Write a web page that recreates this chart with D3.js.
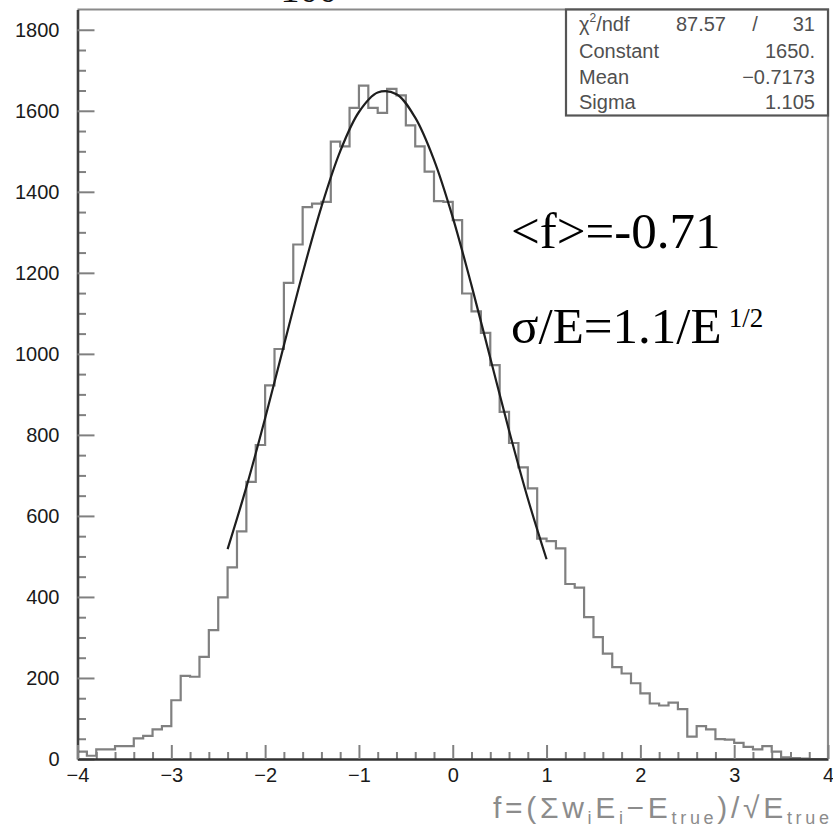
<!DOCTYPE html>
<html lang="en">
<head>
    <meta charset="UTF-8">
    <title>f distribution with gaussian fit</title>
    <script src="https://d3js.org/d3.v7.min.js"></script>
    <style>
        body {
            margin: 0;
            background: #fff;
        }
        svg {
            display: block;
        }
    </style>
</head>
<body>
    <svg width="833" height="830"></svg>
    <script>
        // histogram: 80 bins of width 0.1 from -4 to 4
        const xMin = -4;
        const xMax = 4;
        const binWidth = 0.1;
        const counts = [
            18, 8, 24, 24, 32, 32, 51, 57, 73, 81,              // -4.0 .. -3.1
            145, 205, 203, 252, 318, 399, 473, 562, 684, 775,   // -3.0 .. -2.1
            922, 1012, 1175, 1270, 1362, 1371, 1375, 1524, 1512, 1607, // -2.0 .. -1.1
            1662, 1607, 1595, 1654, 1638, 1564, 1512, 1450, 1377, 1375, // -1.0 .. -0.1
            1330, 1149, 1105, 1052, 972, 857, 780, 720, 668, 544, // 0.0 .. 0.9
            538, 520, 432, 423, 350, 301, 260, 227, 211, 187,   // 1.0 .. 1.9
            162, 137, 132, 139, 123, 55, 81, 73, 49, 48,        // 2.0 .. 2.9
            40, 30, 24, 32, 18, 4, 2, 1, 0, 0                   // 3.0 .. 3.9
        ];

        // gaussian fit curve
        const fitX = [-2.4, -2.2, -2.0, -1.8, -1.6, -1.4, -1.2, -1.0, -0.8, -0.6,
                      -0.4, -0.2, 0.0, 0.2, 0.4, 0.6, 0.8, 1.0];
        const fitY = [518, 671, 841, 1021, 1199, 1363, 1500, 1597, 1645, 1641,
                      1583, 1479, 1337, 1169, 990, 811, 643, 493];

        const yTicks = [0, 200, 400, 600, 800, 1000, 1200, 1400, 1600, 1800];
        const yMinor = d3.range(0, 1850, 50).filter(v => v % 200 !== 0);
        const xTicks = [-4, -3, -2, -1, 0, 1, 2, 3, 4];
        const xMinor = [-3.8, -3.6, -3.4, -3.2, -2.8, -2.6, -2.4, -2.2, -1.8, -1.6, -1.4, -1.2,
                        -0.8, -0.6, -0.4, -0.2, 0.2, 0.4, 0.6, 0.8, 1.2, 1.4, 1.6, 1.8,
                        2.2, 2.4, 2.6, 2.8, 3.2, 3.4, 3.6, 3.8];

        const statNames = ['Constant', 'Mean', 'Sigma'];
        const statValues = ['1650.', '\u22120.7173', '1.105'];
        const chi2 = '87.57';
        const ndf = '31';

        const svg = d3.select('svg');
        const sans = '"Liberation Sans", Arial, Helvetica, sans-serif';
        const serif = '"Liberation Serif", "Times New Roman", serif';

        const x = d3.scaleLinear().domain([xMin, xMax]).range([77.5, 828]);
        const y = d3.scaleLinear().domain([0, 1850]).range([759, 9.5]);

        // title, cut off at the top of the picture
        svg.append('text')
            .attr('x', 309).attr('y', 1.5)
            .attr('text-anchor', 'middle')
            .attr('font-family', serif)
            .attr('font-size', 38)
            .attr('fill', '#111')
            .text('100');

        // top and right frame
        svg.append('path')
            .attr('d', `M${x(xMin)},${y(1850)}H${x(xMax)}V${y(0)}`)
            .attr('fill', 'none')
            .attr('stroke', '#8a8a8a')
            .attr('stroke-width', 2.2);

        // histogram
        const pts = counts.map((c, i) => [xMin + i * binWidth, c]);
        pts.push([xMin + counts.length * binWidth, counts[counts.length - 1]]);
        svg.append('path')
            .datum(pts)
            .attr('fill', 'none')
            .attr('stroke', '#808080')
            .attr('stroke-width', 2.2)
            .attr('d', d3.line()
                .x(d => x(d[0]))
                .y(d => y(d[1]))
                .curve(d3.curveStepAfter));

        // fit
        svg.append('path')
            .datum(fitX.map((v, i) => [v, fitY[i]]))
            .attr('fill', 'none')
            .attr('stroke', '#1e1e1e')
            .attr('stroke-width', 2.2)
            .attr('d', d3.line()
                .x(d => x(d[0]))
                .y(d => y(d[1]))
                .curve(d3.curveCatmullRom));

        // y axis
        svg.append('g')
            .attr('transform', `translate(${x(xMin)},0)`)
            .call(d3.axisLeft(y).tickValues(yMinor).tickSize(-8.5).tickFormat(''))
            .call(g => g.select('.domain').remove())
            .selectAll('line')
            .attr('stroke', '#808080')
            .attr('stroke-width', 2);

        const yAxis = svg.append('g')
            .attr('transform', `translate(${x(xMin)},0)`)
            .call(d3.axisLeft(y).tickValues(yTicks).tickSize(-17).tickSizeOuter(0)
                .tickPadding(18).tickFormat(d3.format('d')))
            .attr('font-family', sans)
            .attr('font-size', 20);
        yAxis.select('.domain').attr('stroke', '#404040').attr('stroke-width', 2.6);
        yAxis.selectAll('line').attr('stroke', '#808080').attr('stroke-width', 2);
        yAxis.selectAll('text').attr('fill', '#1a1a1a');

        // x axis
        svg.append('g')
            .attr('transform', `translate(0,${y(0)})`)
            .call(d3.axisBottom(x).tickValues(xMinor).tickSize(-7).tickFormat(''))
            .call(g => g.select('.domain').remove())
            .selectAll('line')
            .attr('stroke', '#808080')
            .attr('stroke-width', 2);

        const xAxis = svg.append('g')
            .attr('transform', `translate(0,${y(0)})`)
            .call(d3.axisBottom(x).tickValues(xTicks).tickSize(-14).tickSizeOuter(0)
                .tickPadding(9).tickFormat(d3.format('d')))
            .attr('font-family', sans)
            .attr('font-size', 20);
        xAxis.select('.domain').attr('stroke', '#333').attr('stroke-width', 2.6);
        xAxis.selectAll('line').attr('stroke', '#808080').attr('stroke-width', 2);
        xAxis.selectAll('text').attr('fill', '#1a1a1a');

        // axis title
        const xt = svg.append('text')
            .attr('x', 493).attr('y', 818)
            .attr('font-family', sans)
            .attr('font-size', 30)
            .attr('fill', '#8c8c8c')
            .attr('textLength', 336)
            .attr('lengthAdjust', 'spacing');
        xt.append('tspan').text('f=(\u03A3w');
        xt.append('tspan').attr('dy', 6).attr('font-size', 18).text('i');
        xt.append('tspan').attr('dy', -6).text('E');
        xt.append('tspan').attr('dy', 6).attr('font-size', 18).text('i');
        xt.append('tspan').attr('dy', -6).text('\u2212E');
        xt.append('tspan').attr('dy', 6).attr('font-size', 18).text('true');
        xt.append('tspan').attr('dy', -6).text(')/\u221AE');
        xt.append('tspan').attr('dy', 6).attr('font-size', 18).text('true');

        // stats box
        svg.append('rect')
            .attr('x', 566).attr('y', y(1850))
            .attr('width', x(xMax) - 566).attr('height', 106)
            .attr('fill', '#fff')
            .attr('stroke', '#555')
            .attr('stroke-width', 2.2);

        const stats = svg.append('g')
            .attr('font-family', sans)
            .attr('font-size', 20)
            .attr('fill', '#505050');

        const r1 = stats.append('text').attr('x', 579).attr('y', 31);
        r1.append('tspan').text('\u03C7');
        r1.append('tspan').attr('dy', -9).attr('font-size', 12).text('2');
        r1.append('tspan').attr('dy', 9).text('/ndf');
        stats.append('text').attr('x', 726).attr('y', 31).attr('text-anchor', 'end').text(chi2);
        stats.append('text').attr('x', 755).attr('y', 31).attr('text-anchor', 'middle').text('/');
        stats.append('text').attr('x', 815).attr('y', 31).attr('text-anchor', 'end').text(ndf);

        statNames.forEach((name, i) => {
            stats.append('text').attr('x', 579).attr('y', 58 + i * 25.5).text(name);
            stats.append('text').attr('x', 815).attr('y', 58 + i * 25.5)
                .attr('text-anchor', 'end').text(statValues[i]);
        });

        // annotations
        svg.append('text')
            .attr('x', 511).attr('y', 248)
            .attr('font-family', serif)
            .attr('font-size', 51)
            .attr('fill', '#000')
            .text('<f>=-0.71');

        const sig = svg.append('text')
            .attr('x', 511).attr('y', 343)
            .attr('font-family', serif)
            .attr('font-size', 51)
            .attr('fill', '#000');
        sig.append('tspan').text('\u03C3/E=1.1/E');
        sig.append('tspan').attr('dx', 7).attr('dy', -16).attr('font-size', 27).text('1/2');
    </script>
</body>
</html>
